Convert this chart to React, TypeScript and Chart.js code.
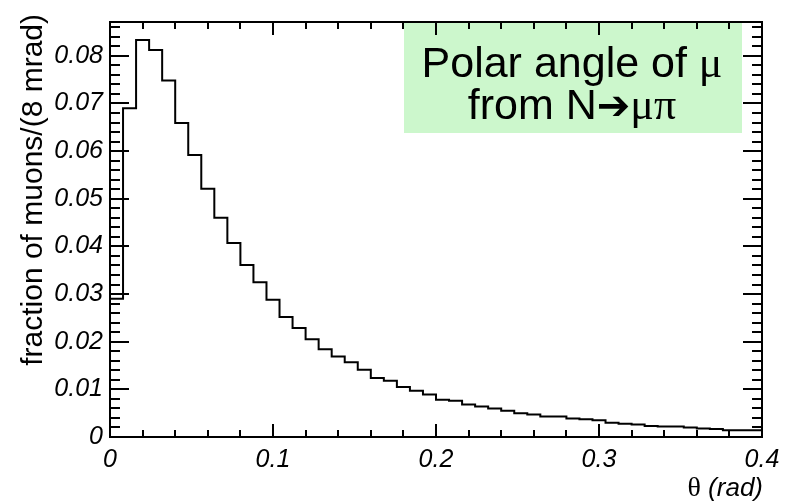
import React, { useEffect, useRef } from "react";
import { Chart, registerables } from "chart.js";

Chart.register(...registerables);

// ---- data ----
const binWidth = 0.008; // rad per bin (8 mrad)
const xMin = 0;
const xMax = 0.4;
const yMin = 0;
const yMax = 0.0871;

// fraction of muons per 8 mrad bin, bins from 0 to 0.4 rad
const fractions = [
  0.029, 0.069, 0.0833, 0.0812, 0.0748, 0.0659, 0.0592, 0.0521, 0.046, 0.0407,
  0.0361, 0.0325, 0.0288, 0.0252, 0.0229, 0.0205, 0.0184, 0.0169, 0.0157, 0.0141,
  0.0124, 0.0118, 0.0105, 0.0097, 0.0089, 0.0078, 0.0076, 0.0068, 0.0064, 0.006,
  0.0055, 0.005, 0.0047, 0.0043, 0.0043, 0.0039, 0.0037, 0.0035, 0.003, 0.0028,
  0.0026, 0.0023, 0.0022, 0.0022, 0.002, 0.0018, 0.0017, 0.0014, 0.0014, 0.0014,
];

const xTickLabels = ["0", "0.1", "0.2", "0.3", "0.4"];
const yTickLabels = ["0", "0.01", "0.02", "0.03", "0.04", "0.05", "0.06", "0.07", "0.08"];
const xMajorStep = 0.1;
const xMinorStep = 0.02;
const yMajorStep = 0.01;
const yMinorStep = 0.002;

const yTitle = "fraction of muons/(8 mrad)";
const xTitleSymbol = "θ";
const xTitleUnit = " (rad)";
const boxLine1 = [
  { t: "Polar angle of ", f: "43px 'Liberation Sans', Arial, sans-serif" },
  { t: "μ", f: "44px 'Liberation Serif', 'Times New Roman', serif" },
];
const boxLine2 = [
  { t: "from N", f: "43px 'Liberation Sans', Arial, sans-serif" },
  { t: "➔", f: "40px 'DejaVu Sans', sans-serif" },
  { t: "μπ", f: "44px 'Liberation Serif', 'Times New Roman', serif" },
];

const SANS = "'Liberation Sans', Arial, Helvetica, sans-serif";

function drawSegments(ctx: CanvasRenderingContext2D, segs: { t: string; f: string }[], cx: number, baseline: number) {
  let total = 0;
  const widths = segs.map((s) => {
    ctx.font = s.f;
    const w = ctx.measureText(s.t).width;
    total += w;
    return w;
  });
  let x = cx - total / 2;
  ctx.textAlign = "left";
  ctx.textBaseline = "alphabetic";
  segs.forEach((s, i) => {
    ctx.font = s.f;
    ctx.fillText(s.t, x, baseline);
    x += widths[i];
  });
}

const rootStyle = {
  id: "rootStyle",
  afterDraw(chart: any) {
    const { ctx, chartArea: a, scales } = chart;
    const xs = scales.x;
    const ys = scales.y;
    ctx.save();

    // annotation pave
    ctx.fillStyle = "rgb(204,247,204)";
    ctx.fillRect(404, 21, 338, 112);
    ctx.fillStyle = "#000";
    drawSegments(ctx, boxLine1, 572, 77);
    drawSegments(ctx, boxLine2, 572, 119);

    // frame
    ctx.strokeStyle = "#000";
    ctx.lineWidth = 2;
    ctx.strokeRect(a.left, a.top, a.right - a.left, a.bottom - a.top);

    // ticks
    ctx.beginPath();
    for (let k = 0; ; k++) {
      const v = yMin + k * yMinorStep;
      if (v > yMax + 1e-9) break;
      const py = Math.round(ys.getPixelForValue(v));
      const major = Math.abs(v / yMajorStep - Math.round(v / yMajorStep)) < 1e-6;
      const len = major ? 19 : 10;
      ctx.moveTo(a.left, py);
      ctx.lineTo(a.left + len, py);
      ctx.moveTo(a.right, py);
      ctx.lineTo(a.right - len, py);
    }
    for (let k = 0; ; k++) {
      const v = xMin + k * xMinorStep;
      if (v > xMax + 1e-9) break;
      const px = Math.round(xs.getPixelForValue(v));
      const major = Math.abs(v / xMajorStep - Math.round(v / xMajorStep)) < 1e-6;
      const len = major ? 13 : 7;
      ctx.moveTo(px, a.bottom);
      ctx.lineTo(px, a.bottom - len);
      ctx.moveTo(px, a.top);
      ctx.lineTo(px, a.top + len);
    }
    ctx.stroke();

    // y title (rotated, aligned to top of axis)
    ctx.save();
    ctx.translate(42, a.top - 8);
    ctx.rotate(-Math.PI / 2);
    ctx.font = `30px ${SANS}`;
    ctx.textAlign = "right";
    ctx.textBaseline = "alphabetic";
    ctx.fillStyle = "#000";
    ctx.fillText(yTitle, 0, 0);
    ctx.restore();

    // x title (right aligned)
    ctx.fillStyle = "#000";
    ctx.textBaseline = "alphabetic";
    ctx.textAlign = "right";
    ctx.font = `italic 26px ${SANS}`;
    const right = a.right + 1;
    ctx.fillText(xTitleUnit, right, 496);
    const wu = ctx.measureText(xTitleUnit).width;
    ctx.font = "28px 'Liberation Serif', 'Times New Roman', serif";
    ctx.fillText(xTitleSymbol, right - wu, 496);

    ctx.restore();
  },
};

export default function App() {
  const ref = useRef<HTMLCanvasElement | null>(null);

  useEffect(() => {
    if (!ref.current) return;
    const points: { x: number; y: number }[] = [];
    fractions.forEach((v, i) => {
      points.push({ x: xMin + i * binWidth, y: v });
      points.push({ x: xMin + (i + 1) * binWidth, y: v });
    });

    const chart = new Chart(ref.current, {
      type: "line",
      data: {
        datasets: [
          {
            data: points,
            borderColor: "#000",
            borderWidth: 2,
            pointRadius: 0,
            fill: false,
            tension: 0,
          },
        ],
      },
      options: {
        animation: false,
        responsive: false,
        devicePixelRatio: 1,
        layout: { autoPadding: false, padding: { top: 10, right: 26, left: 0, bottom: 0 } },
        plugins: { legend: { display: false }, tooltip: { enabled: false } },
        scales: {
          x: {
            type: "linear",
            min: xMin,
            max: xMax,
            grid: { display: false, drawTicks: false },
            border: { display: false },
            ticks: {
              stepSize: xMajorStep,
              includeBounds: false,
              padding: 8,
              maxRotation: 0,
              autoSkip: false,
              color: "#000",
              font: { family: SANS, size: 25, style: "italic" },
              callback: (value: any) => xTickLabels[Math.round((Number(value) - xMin) / xMajorStep)] ?? "",
            },
            afterFit: (s: any) => {
              s.height = 67;
            },
          },
          y: {
            type: "linear",
            min: yMin,
            max: yMax,
            grid: { display: false, drawTicks: false },
            border: { display: false },
            ticks: {
              stepSize: yMajorStep,
              includeBounds: false,
              padding: 7,
              autoSkip: false,
              color: "#000",
              font: { family: SANS, size: 25, style: "italic" },
              callback: (value: any) => yTickLabels[Math.round((Number(value) - yMin) / yMajorStep)] ?? "",
            },
            afterFit: (s: any) => {
              s.width = 110;
            },
          },
        },
      } as any,
      plugins: [rootStyle],
    });
    return () => chart.destroy();
  }, []);

  return (
    <div style={{ position: "fixed", left: 0, top: 0, width: 788, height: 504, background: "#fff" }}>
      <canvas ref={ref} width={788} height={504} style={{ width: 788, height: 504, display: "block" }} />
    </div>
  );
}
